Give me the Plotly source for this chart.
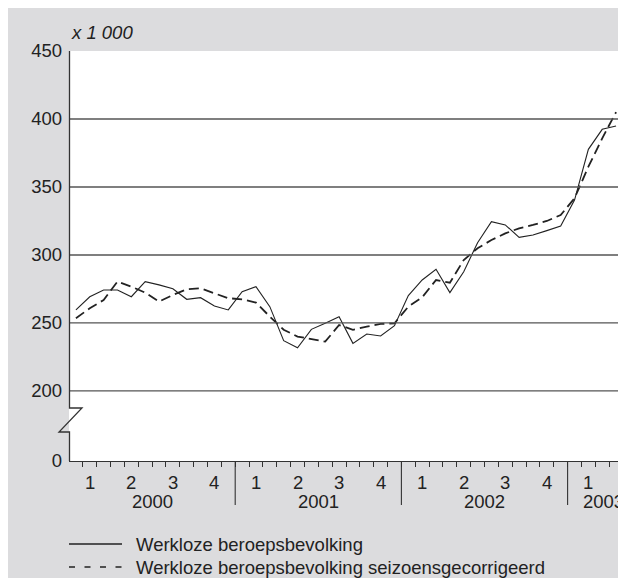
import plotly.graph_objects as go

# ---- data (x 1 000), monthly Jan 2000 .. Apr 2003 ----
months = list(range(40))
werkloze = [259.6, 269.3, 274.3, 274.3, 269.3, 280.4, 278.0, 275.1, 267.4, 268.6, 262.5, 259.6,
            273.0, 276.7, 262.0, 237.0, 231.8, 245.3, 249.8, 254.6, 235.0, 241.9, 240.4, 248.0,
            270.1, 281.6, 289.5, 272.3, 287.7, 309.0, 324.5, 322.1, 313.0, 314.7, 317.9, 321.3,
            340.4, 377.7, 392.4, 394.9]
seizoen = [253.5, 260.8, 266.9, 280.4, 276.7, 272.3, 265.7, 270.6, 274.8, 275.5, 271.8, 268.2,
           267.4, 265.0, 254.7, 245.0, 240.0, 238.0, 236.3, 248.5, 245.0, 247.3, 249.3, 249.8,
           262.0, 268.9, 281.6, 279.6, 296.3, 304.9, 311.0, 315.9, 319.6, 322.1, 325.0, 329.4,
           341.7, 364.9, 385.8, 405.0]
name_solid = "Werkloze beroepsbevolking"
name_dash = "Werkloze beroepsbevolking seizoensgecorrigeerd"

years = ["2000", "2001", "2002", "2003"]
quarter_labels = ["1", "2", "3", "4"]
n_quarters_shown = 13          # 2000Q1 .. 2003Q1
grid_values = [200, 250, 300, 350, 400]
y_tick_labels = ["0", "200", "250", "300", "350", "400", "450"]
zero_pos = 148.5               # broken-axis position used for "0"
y_top = 450

FONT = "Liberation Sans, Arial, sans-serif"
FS = 18.5
INK = "#222222"
GRAY_BG = "#dcdcde"

fig = go.Figure()
fig.add_trace(go.Scatter(x=months, y=werkloze, mode="lines", name=name_solid,
                         line=dict(color=INK, width=1.1)))
fig.add_trace(go.Scatter(x=months, y=seizoen, mode="lines", name=name_dash,
                         line=dict(color=INK, width=1.8, dash="10px,5px")))

OFF = 8                       # page body margin
W, H = 618, 570
L, R, T, B = 61, 3, 43, 117
ph = H - T - B
pw = W - L - R


def py(sy):
    """screen pixel row -> paper y"""
    return (H - B - (sy - OFF)) / ph


def pxx(sx):
    """screen pixel column -> paper x"""
    return (sx - OFF - L) / pw


shapes = []
# horizontal grid
for v in grid_values:
    shapes.append(dict(type="line", xref="x domain", yref="y", x0=0, x1=1, y0=v, y1=v,
                       line=dict(color="#555555", width=1.3)))
# right border
shapes.append(dict(type="line", xref="paper", yref="paper", x0=1, x1=1, y0=0, y1=1,
                   line=dict(color="#444444", width=1.3)))
# left axis with break symbol (paper coords, not clipped)
ax = pxx(69.5)
brk = [(ax, 1), (ax, py(408)), (pxx(82), py(408)), (pxx(59), py(432)), (ax, py(432)), (ax, 0)]
path = "M" + " L".join(f"{a:.5f},{b:.5f}" for a, b in brk)
shapes.append(dict(type="path", xref="paper", yref="paper", path=path,
                   line=dict(color="#333333", width=1.3)))
# year separators
for k in range(1, len(years)):
    xv = 12 * k - 0.5
    shapes.append(dict(type="line", xref="x", yref="paper", x0=xv, x1=xv, y0=0, y1=py(505),
                       line=dict(color="#333333", width=1.1)))
# legend samples
shapes.append(dict(type="line", xref="paper", yref="paper", x0=pxx(69), x1=pxx(122),
                   y0=py(544), y1=py(544), line=dict(color=INK, width=1.3)))
shapes.append(dict(type="line", xref="paper", yref="paper", x0=pxx(69), x1=pxx(122),
                   y0=py(567), y1=py(567), line=dict(color=INK, width=1.3, dash="6px,9.5px")))

ann = []
for j in range(n_quarters_shown):
    ann.append(dict(x=3 * j + 1, y=py(482), xref="x", yref="paper", showarrow=False,
                    text=quarter_labels[j % 4], font=dict(size=FS, color=INK, family=FONT),
                    xanchor="center", yanchor="middle"))
for k, yr in enumerate(years[:-1]):
    ann.append(dict(x=12 * k + 5.5, y=py(501), xref="x", yref="paper", showarrow=False,
                    text=yr, font=dict(size=FS, color=INK, family=FONT),
                    xanchor="center", yanchor="middle"))
ann.append(dict(x=39.5, y=py(501), xref="x", yref="paper", showarrow=False, xshift=3,
                text=years[-1], font=dict(size=FS, color=INK, family=FONT),
                xanchor="right", yanchor="middle"))
ann.append(dict(x=pxx(69), y=py(33), xref="paper", yref="paper", showarrow=False,
                text="<i>x 1 000</i>", font=dict(size=FS, color=INK, family=FONT),
                xanchor="left", yanchor="middle"))
ann.append(dict(x=pxx(134), y=py(544), xref="paper", yref="paper", showarrow=False,
                text=name_solid, font=dict(size=FS, color=INK, family=FONT),
                xanchor="left", yanchor="middle"))
ann.append(dict(x=pxx(134), y=py(567), xref="paper", yref="paper", showarrow=False,
                text=name_dash, font=dict(size=FS, color=INK, family=FONT),
                xanchor="left", yanchor="middle"))

fig.update_layout(
    width=W, height=H,
    margin=dict(l=L, r=R, t=T, b=B, pad=0),
    paper_bgcolor=GRAY_BG, plot_bgcolor="white",
    showlegend=False,
    font=dict(family=FONT, size=FS, color=INK),
    shapes=shapes, annotations=ann,
    xaxis=dict(range=[-0.5, 39.5], showgrid=False, zeroline=False,
               showline=True, linecolor="#333333", linewidth=1.3,
               tickmode="array", tickvals=[m + 0.5 for m in months[:-1]],
               ticks="outside", ticklen=5, tickwidth=1, tickcolor="#333333",
               showticklabels=False),
    yaxis=dict(range=[zero_pos, y_top], showgrid=False, zeroline=False, showline=False,
               tickmode="array", tickvals=[zero_pos] + grid_values + [y_top],
               ticktext=y_tick_labels, ticks="", ticklabelstandoff=6,
               tickfont=dict(size=FS, color=INK, family=FONT)),
)

fig.write_html("out.html")
